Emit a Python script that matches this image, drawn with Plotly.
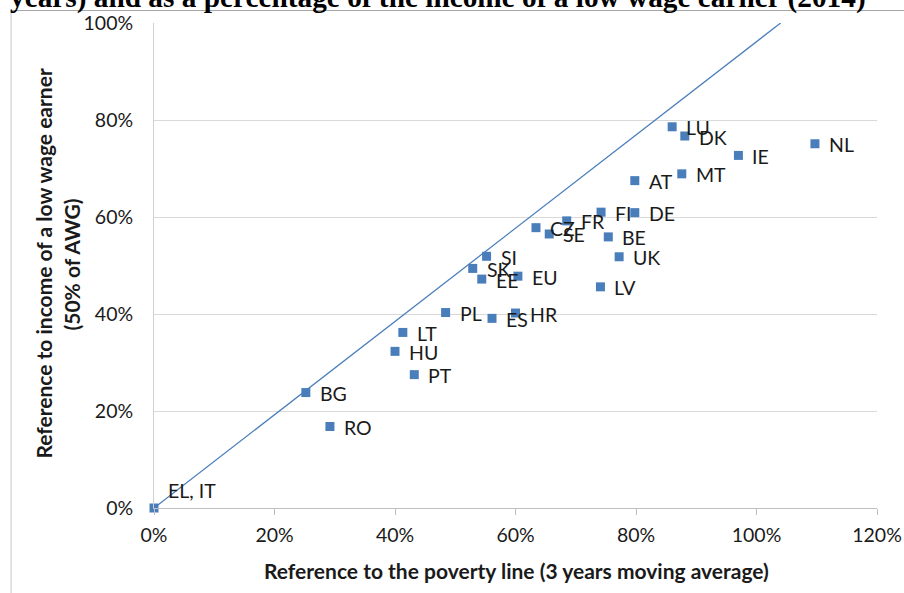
import plotly.graph_objects as go

# Member-state reference values (share of the poverty line, share of a low wage earner's income)
countries = ["EL, IT", "BG", "RO", "HU", "LT", "PT", "PL", "SK", "SI", "EE", "ES", "HR",
             "EU", "CZ", "SE", "FR", "FI", "LV", "DE", "BE", "UK", "AT", "MT", "LU",
             "DK", "IE", "NL"]
poverty_line = [0.000, 0.252, 0.292, 0.400, 0.413, 0.432, 0.484, 0.529, 0.552, 0.544, 0.561, 0.600,
                0.604, 0.634, 0.656, 0.685, 0.742, 0.741, 0.798, 0.754, 0.772, 0.798, 0.876, 0.860,
                0.881, 0.970, 1.097]
low_wage_income = [0.000, 0.238, 0.168, 0.323, 0.362, 0.275, 0.403, 0.494, 0.519, 0.472, 0.391, 0.402,
                   0.478, 0.578, 0.565, 0.592, 0.610, 0.456, 0.609, 0.559, 0.518, 0.675, 0.689, 0.786,
                   0.767, 0.727, 0.751]

# Reference line drawn across the plot
line_x = [0.0, 1.04]
line_y = [0.0, 1.0]

x_ticks = [0, 0.2, 0.4, 0.6, 0.8, 1.0, 1.2]
y_ticks = [0, 0.2, 0.4, 0.6, 0.8, 1.0]

title_text = "years) and as a percentage of the income of a low wage earner (2014)"
x_title = "Reference to the poverty line (3 years moving average)"
y_title_1 = "Reference to income of a low wage earner"
y_title_2 = "(50% of AWG)"

W, H = 904, 593
L, R, T, B = 153.5, 877.0, 22.5, 508.5
PW, PH = R - L, B - T


def px(p):
    return (p - L) / PW


def py(p):
    return (B - p) / PH


BLUE = "#4a7ebb"
SANS = "Lato, Arial, sans-serif"
TXT = "#1a1a1a"
TICK_SIZE = 19.5
TITLE_SIZE = 21

fig = go.Figure()
fig.add_trace(go.Scatter(
    x=line_x, y=line_y, mode="lines",
    line=dict(color=BLUE, width=1.25),
    hoverinfo="skip", showlegend=False,
))
fig.add_trace(go.Scatter(
    x=poverty_line, y=low_wage_income, mode="markers",
    marker=dict(symbol="square", size=9, color=BLUE),
    cliponaxis=False, showlegend=False,
))

# Country labels to the right of each marker (EL, IT sits above-right of the origin)
point_labels = []
for c, xv, yv in zip(countries, poverty_line, low_wage_income):
    above = c == "EL, IT"
    point_labels.append(dict(
        x=xv, y=yv, xref="x", yref="y", text=c, showarrow=False,
        xanchor="left", yanchor="middle",
        xshift=12, yshift=18 if above else -1,
        font=dict(family=SANS, size=TICK_SIZE, color=TXT),
    ))

fig.update_layout(
    width=W, height=H, autosize=False,
    margin=dict(l=L, r=W - R, t=T, b=H - B, pad=0, autoexpand=False),
    paper_bgcolor="white", plot_bgcolor="white",
    font=dict(family=SANS, size=TICK_SIZE, color=TXT),
    xaxis=dict(
        range=[0, 1.2], tickvals=x_ticks, tickformat=".0%",
        showgrid=False, zeroline=False, automargin=False,
        showline=True, linecolor="#bfbfbf", linewidth=1,
        ticks="outside", ticklen=6, tickcolor="#bfbfbf",
        ticklabelstandoff=4,
        tickfont=dict(family=SANS, size=TICK_SIZE, color=TXT),
    ),
    yaxis=dict(
        range=[0, 1.0], tickvals=y_ticks, tickformat=".0%",
        showgrid=True, gridcolor="#d9d9d9", gridwidth=1, zeroline=False,
        automargin=False,
        showline=True, linecolor="#d0d0d0", linewidth=1,
        ticks="", ticklabelstandoff=16,
        tickfont=dict(family=SANS, size=TICK_SIZE, color=TXT),
    ),
    shapes=[
        # chart frame: top rule and left edge
        dict(type="line", xref="paper", yref="paper",
             x0=px(10), x1=px(W + 5), y0=py(10), y1=py(10),
             line=dict(color="#a6a6a6", width=1)),
        dict(type="line", xref="paper", yref="paper",
             x0=px(10.5), x1=px(10.5), y0=py(10), y1=py(H + 5),
             line=dict(color="#d9d9d9", width=1.5)),
    ],
    annotations=point_labels + [
        dict(text="<b>" + title_text + "</b>", xref="paper", yref="paper",
             x=px(7), y=py(15), xanchor="left", yanchor="bottom", showarrow=False,
             font=dict(family="Liberation Serif, Times New Roman, serif", size=29.3, color="black")),
        dict(text="<b>" + x_title + "</b>", xref="paper", yref="paper",
             x=px(516), y=py(571), xanchor="center", yanchor="middle", showarrow=False,
             font=dict(family=SANS, size=TITLE_SIZE, color=TXT)),
        dict(text="<b>" + y_title_1 + "</b>", xref="paper", yref="paper",
             x=px(42), y=py(264), xanchor="center", yanchor="middle", showarrow=False,
             textangle=-90, font=dict(family=SANS, size=TITLE_SIZE, color=TXT)),
        dict(text="<b>" + y_title_2 + "</b>", xref="paper", yref="paper",
             x=px(70), y=py(265), xanchor="center", yanchor="middle", showarrow=False,
             textangle=-90, font=dict(family=SANS, size=TITLE_SIZE, color=TXT)),
    ],
)

fig.write_html("out.html")
